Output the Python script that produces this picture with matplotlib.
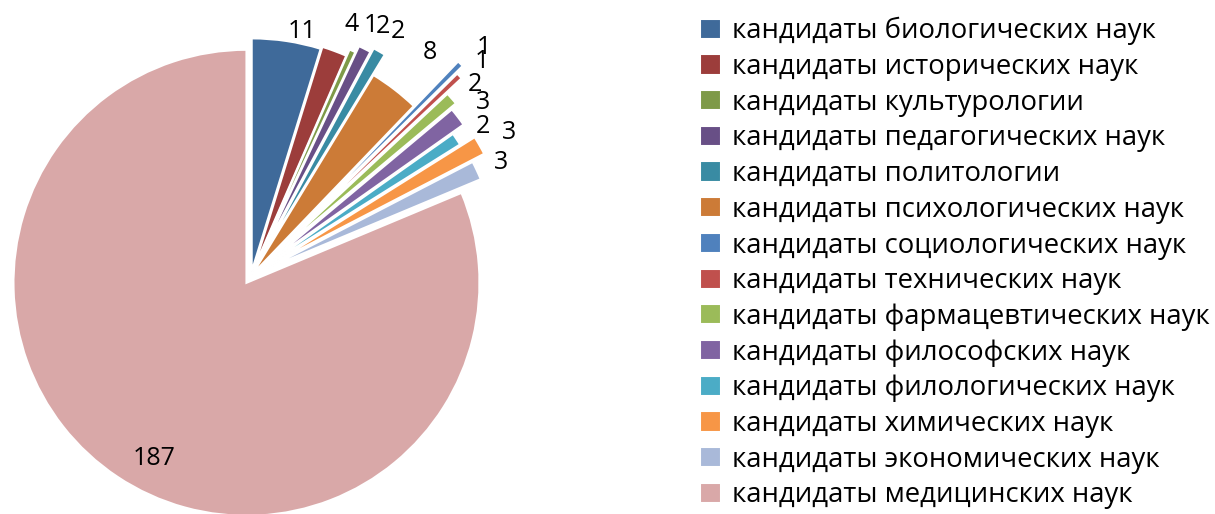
import matplotlib
matplotlib.use("Agg")
import matplotlib.pyplot as plt
import numpy as np

plt.rcParams['font.family'] = ['Open Sans', 'DejaVu Sans']

categories = [
    "кандидаты биологических наук",
    "кандидаты исторических наук",
    "кандидаты культурологии",
    "кандидаты педагогических наук",
    "кандидаты политологии",
    "кандидаты психологических наук",
    "кандидаты социологических наук",
    "кандидаты технических наук",
    "кандидаты фармацевтических наук",
    "кандидаты философских наук",
    "кандидаты филологических наук",
    "кандидаты химических наук",
    "кандидаты экономических наук",
    "кандидаты медицинских наук",
]
values = [11, 4, 1, 2, 2, 8, 1, 1, 2, 3, 2, 3, 3, 187]
labels = [str(v) for v in values]

colors = ["#3F6A9A", "#9C3D3B", "#7E9A48", "#684F86", "#398BA3", "#CC7B37",
          "#4F81BD", "#C0504D", "#9BBB59", "#8064A2", "#4BACC6", "#F79646",
          "#A9B9D9", "#D9A8A8"]
explode = [0.02, 0.03, 0.06, 0.09, 0.11, 0.01, 0.28, 0.24, 0.15, 0.12, 0.06, 0.13, 0.07, 0.035]
label_dist = [1.04, 1.12, 1.12, 1.11, 1.1, 1.2, 1.1, 1.09, 1.09, 1.1, 1.1, 1.11, 1.08, 0.85]
label_rot = [0, 0, 0, 0, 0, 0, 0, 0, 0, 0, 0, 0, 0, 6]

W, H = 1215, 514
fig = plt.figure(figsize=(W / 100, H / 100), dpi=100)
ax = fig.add_axes([0, 0, 1, 1])
cx, cy, r = 251, 276, 233

wedges, texts = ax.pie(values, labels=labels, colors=colors, explode=explode,
                       startangle=90, counterclock=False, radius=1,
                       labeldistance=1.1,
                       wedgeprops=dict(edgecolor='white', linewidth=1.5),
                       textprops=dict(fontsize=18, color='black'))
ax.set_xlim(-cx / r, (W - cx) / r)
ax.set_ylim(-(H - cy) / r, cy / r)
ax.set_aspect('equal')
ax.axis('off')

for w, t, d, rot in zip(wedges, texts, label_dist, label_rot):
    th = np.deg2rad((w.theta1 + w.theta2) / 2 + rot)
    t.set_position((w.center[0] + d * np.cos(th), w.center[1] + d * np.sin(th)))
texts[-1].set_ha('center')

leg = fig.legend(wedges, categories, loc='upper left',
                 bbox_to_anchor=(700 / W, 1 - 17 / H), frameon=False,
                 fontsize=19.8, handlelength=0.75, handleheight=0.75,
                 handletextpad=0.4, labelspacing=0.28, borderaxespad=0, borderpad=0)

fig.savefig("out.png", dpi=100)
